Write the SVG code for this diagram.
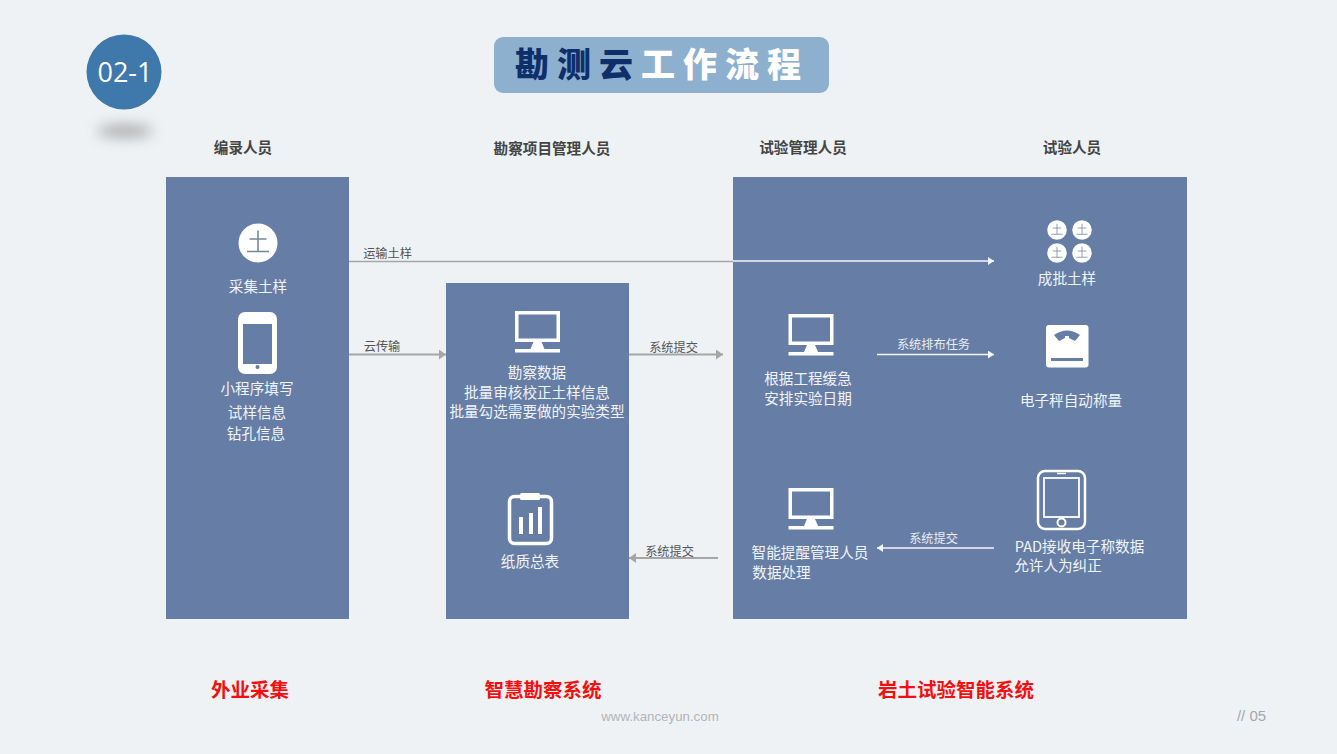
<svg xmlns="http://www.w3.org/2000/svg" width="1337" height="754" viewBox="0 0 1337 754">
<style>
text{font-family:"Noto Sans CJK SC","Liberation Sans",sans-serif;text-anchor:middle}
.w{fill:#f1f4f8;font-size:14.6px}
.h{fill:#444;font-size:14.6px;font-weight:700}
.r{fill:#f40f0f;font-size:19.5px;font-weight:700}
.l{fill:#555;font-size:12.2px}
.lw{fill:#e8edf4;font-size:12.2px}
.panel{fill:#667ea6}
.g{stroke:#a6a6a6;stroke-width:1.800;fill:none}
.wl{stroke:#f4f6f9;stroke-width:1.500;fill:none}
.t{font-size:34px;font-weight:900;letter-spacing:8px;text-anchor:start}
</style>
<defs>
<marker id="ag" markerUnits="userSpaceOnUse" markerWidth="8" markerHeight="10" refX="7" refY="5" orient="auto"><path d="M0 0L7 5L0 10z" fill="#a6a6a6"/></marker>
<marker id="aw" markerUnits="userSpaceOnUse" markerWidth="7" markerHeight="8" refX="6" refY="4" orient="auto"><path d="M0 0L6 4L0 8z" fill="#f4f6f9"/></marker>
<filter id="b" x="-50%" y="-150%" width="200%" height="400%"><feGaussianBlur stdDeviation="7"/></filter>
<g id="soil"><circle r="19.500" fill="#fff"/><path d="M-11 8.500H11M-8.500 -4H8.500M0 -12.500V8.500" stroke="#74889f" stroke-width="1.600" fill="none"/></g>
<g id="mon"><path fill-rule="evenodd" d="M-22.500 -21H22.500V10H-22.500ZM-19 -17.500V6.500H19V-17.500Z" fill="#fff"/><path d="M-4 10H4L7 17H22.500V20.500H-22.500V17H-7Z" fill="#fff"/></g>
</defs>
<rect width="1337" height="754" fill="#eff2f5"/>
<g id="badge"><ellipse cx="125" cy="131" rx="28" ry="6" fill="#8a8a8a" opacity=".75" filter="url(#b)"/><circle cx="124" cy="72" r="37.500" fill="#3f78aa"/><text x="125" y="82" fill="#fff" font-size="27" style="font-family:'Open Sans','Liberation Sans',sans-serif">02-1</text></g>
<g id="title"><rect x="494" y="37" width="335" height="56" rx="9" fill="#8eb0cf"/><text class="t" x="515" y="77" fill="#0f2f6b">勘测云<tspan fill="#fff">工作流程</tspan></text></g>
<g id="headers"><text class="h" x="243" y="153">编录人员</text><text class="h" x="552" y="154">勘察项目管理人员</text><text class="h" x="803" y="153">试验管理人员</text><text class="h" x="1072" y="153">试验人员</text></g>
<g id="panel-field"><rect class="panel" x="166" y="177" width="183" height="442"/>
<use href="#soil" x="258" y="243"/><text class="w" x="258" y="292">采集土样</text>
<rect x="238" y="312" width="39" height="62" rx="7" fill="#fff"/><rect x="243" y="324" width="29" height="40" fill="#667ea6"/><circle cx="257.500" cy="367" r="2" fill="#667ea6"/>
<text class="w" x="257" y="394">小程序填写</text><text class="w" x="257" y="418">试样信息</text><text class="w" x="256" y="439">钻孔信息</text></g>
<g id="panel-survey"><rect class="panel" x="446" y="283" width="183" height="336"/>
<use href="#mon" x="537.500" y="332"/><text class="w" x="537" y="378">勘察数据</text><text class="w" x="537" y="398">批量审核校正土样信息</text><text class="w" x="537" y="417">批量勾选需要做的实验类型</text>
<rect x="509.500" y="496.500" width="42" height="47" rx="5" fill="none" stroke="#fff" stroke-width="3.500"/><rect x="520" y="493" width="20" height="7" rx="1.500" fill="#fff"/><rect x="519" y="517" width="4" height="17" fill="#fff"/><rect x="529" y="513" width="4" height="21" fill="#fff"/><rect x="538" y="507" width="4" height="27" fill="#fff"/>
<text class="w" x="530" y="567">纸质总表</text></g>
<g id="panel-lab"><rect class="panel" x="733" y="177" width="454" height="442"/>
<use href="#soil" transform="translate(1057 230) scale(.5)"/><use href="#soil" transform="translate(1082 230) scale(.5)"/><use href="#soil" transform="translate(1057 253) scale(.5)"/><use href="#soil" transform="translate(1082 253) scale(.5)"/>
<text class="w" x="1067" y="284">成批土样</text>
<rect x="1046" y="325" width="42.500" height="42.500" rx="3" fill="#fff"/><path d="M1054 335Q1067 326 1080 335L1075 341L1069 338V336H1065V338L1059 341Z" fill="#667ea6"/><rect x="1051" y="358" width="32" height="3" fill="#667ea6"/>
<text class="w" x="1071" y="406">电子秤自动称量</text>
<use href="#mon" x="811" y="335"/><text class="w" x="808" y="384">根据工程缓急</text><text class="w" x="808" y="404">安排实验日期</text>
<use href="#mon" x="811" y="509"/><text class="w" x="810" y="558">智能提醒管理人员</text><text class="w" x="781.500" y="578">数据处理</text>
<rect x="1038" y="471" width="47" height="58" rx="7" fill="none" stroke="#fff" stroke-width="2.500"/><rect x="1044" y="478" width="35" height="39" fill="none" stroke="#fff" stroke-width="1.800"/><circle cx="1061.500" cy="522.500" r="4" fill="none" stroke="#fff" stroke-width="2"/><path d="M1057 473.500H1066" stroke="#fff" stroke-width="1.500"/>
<text class="w" x="1079.500" y="552">PAD接收电子称数据</text><text class="w" x="1058" y="571">允许人为纠正</text></g>
<g id="connectors">
<path d="M349 261.500H733" stroke="#a6a6a6" stroke-width="1.500"/><path class="wl" d="M733 261H994" marker-end="url(#aw)"/>
<path class="g" d="M349 354.500H446" marker-end="url(#ag)"/>
<path class="g" d="M629 354.500H723" marker-end="url(#ag)"/>
<path class="wl" d="M877 354.500H994" marker-end="url(#aw)"/>
<path class="wl" d="M994 548H877" marker-end="url(#aw)"/>
<path class="g" d="M718 558H629" marker-end="url(#ag)"/>
</g>
<g id="labels"><text class="l" x="387.500" y="258">运输土样</text><text class="l" x="382" y="351">云传输</text><text class="l" x="673.500" y="352">系统提交</text><text class="lw" x="933.500" y="349">系统排布任务</text><text class="lw" x="933.500" y="543">系统提交</text><text class="l" x="669.500" y="556">系统提交</text></g>
<g id="footer"><text class="r" x="250" y="697">外业采集</text><text class="r" x="543" y="697">智慧勘察系统</text><text class="r" x="956" y="697">岩土试验智能系统</text>
<text x="660" y="721" fill="#b2b5ba" font-size="13.300" style="font-family:'Liberation Sans',sans-serif">www.kanceyun.com</text><text x="1251.500" y="721" fill="#a4a8ad" font-size="15" style="font-family:'Liberation Sans',sans-serif">// 05</text></g>
</svg>
